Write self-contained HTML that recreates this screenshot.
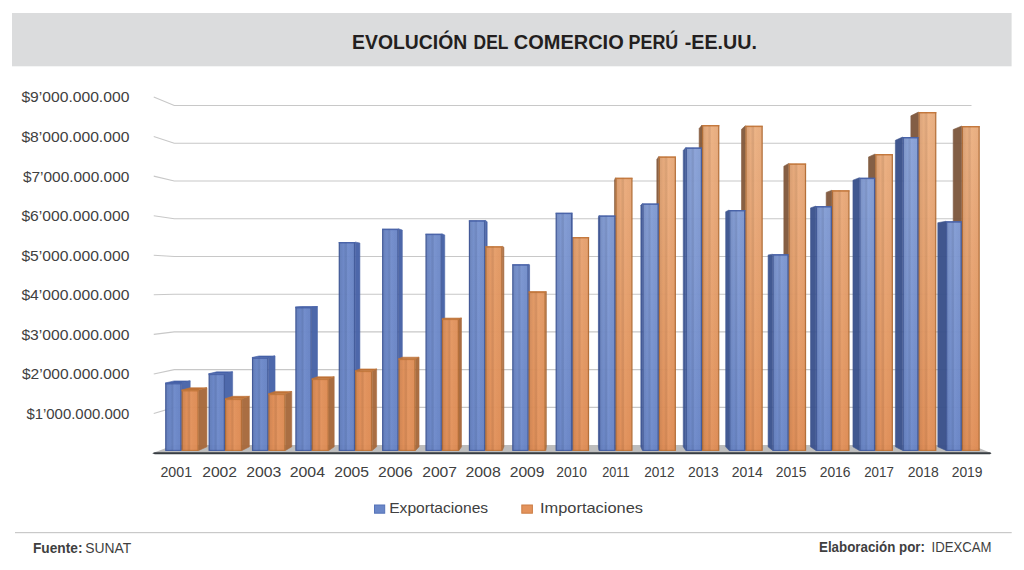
<!DOCTYPE html>
<html lang="es"><head><meta charset="utf-8"><title>Evolución del comercio Perú - EE.UU.</title>
<style>
html,body{margin:0;padding:0;background:#fff;}
body{width:1024px;height:570px;overflow:hidden;font-family:"Liberation Sans",sans-serif;}
svg{display:block}
text{font-family:"Liberation Sans",sans-serif;}
</style></head><body>
<svg width="1024" height="570" viewBox="0 0 1024 570">
<defs>
<linearGradient id="sh" x1="0" x2="1" y1="0" y2="0">
<stop offset="0" stop-color="#000" stop-opacity="0.14"/>
<stop offset="0.12" stop-color="#000" stop-opacity="0.07"/>
<stop offset="0.30" stop-color="#000" stop-opacity="0.02"/>
<stop offset="0.41" stop-color="#000" stop-opacity="0.08"/>
<stop offset="0.47" stop-color="#000" stop-opacity="0.08"/>
<stop offset="0.56" stop-color="#fff" stop-opacity="0.03"/>
<stop offset="0.88" stop-color="#000" stop-opacity="0.02"/>
<stop offset="1" stop-color="#000" stop-opacity="0.12"/>
</linearGradient>
</defs>
<rect x="0" y="0" width="1024" height="570" fill="#ffffff"/>
<rect x="12" y="13" width="999.6" height="53.3" fill="#dbdcdd"/>

<text class="tw" x="352.10" y="48.8" font-size="20.2" font-weight="bold" fill="#231f20" textLength="115.10" lengthAdjust="spacingAndGlyphs">EVOLUCIÓN</text>
<text class="tw" x="473.60" y="48.8" font-size="20.2" font-weight="bold" fill="#231f20" textLength="34.80" lengthAdjust="spacingAndGlyphs">DEL</text>
<text class="tw" x="513.80" y="48.8" font-size="20.2" font-weight="bold" fill="#231f20" textLength="109.90" lengthAdjust="spacingAndGlyphs">COMERCIO</text>
<text class="tw" x="628.50" y="48.8" font-size="20.2" font-weight="bold" fill="#231f20" textLength="49.80" lengthAdjust="spacingAndGlyphs">PERÚ</text>
<text class="tw" x="684.70" y="48.8" font-size="20.2" font-weight="bold" fill="#231f20" textLength="72.20" lengthAdjust="spacingAndGlyphs">-EE.UU.</text>
<polyline points="153.75,413.53 174.25,407.37 971.50,407.37" fill="none" stroke="#c8c8c8" stroke-width="1.1"/>
<text class="yl" x="26.40" y="418.93" font-size="15" fill="#404040" textLength="102.95" lengthAdjust="spacingAndGlyphs">$1’000.000.000</text>
<polyline points="153.75,373.96 174.25,369.64 971.50,369.64" fill="none" stroke="#c8c8c8" stroke-width="1.1"/>
<text class="yl" x="21.90" y="379.36" font-size="15" fill="#404040" textLength="107.45" lengthAdjust="spacingAndGlyphs">$2’000.000.000</text>
<polyline points="153.75,334.39 174.25,331.91 971.50,331.91" fill="none" stroke="#c8c8c8" stroke-width="1.1"/>
<text class="yl" x="21.40" y="339.79" font-size="15" fill="#404040" textLength="107.95" lengthAdjust="spacingAndGlyphs">$3’000.000.000</text>
<polyline points="153.75,294.82 174.25,294.18 971.50,294.18" fill="none" stroke="#c8c8c8" stroke-width="1.1"/>
<text class="yl" x="21.40" y="300.22" font-size="15" fill="#404040" textLength="107.95" lengthAdjust="spacingAndGlyphs">$4’000.000.000</text>
<polyline points="153.75,255.25 174.25,256.45 971.50,256.45" fill="none" stroke="#c8c8c8" stroke-width="1.1"/>
<text class="yl" x="21.40" y="260.65" font-size="15" fill="#404040" textLength="107.95" lengthAdjust="spacingAndGlyphs">$5’000.000.000</text>
<polyline points="153.75,215.68 174.25,218.72 971.50,218.72" fill="none" stroke="#c8c8c8" stroke-width="1.1"/>
<text class="yl" x="21.40" y="221.08" font-size="15" fill="#404040" textLength="107.95" lengthAdjust="spacingAndGlyphs">$6’000.000.000</text>
<polyline points="153.75,176.11 174.25,180.99 971.50,180.99" fill="none" stroke="#c8c8c8" stroke-width="1.1"/>
<text class="yl" x="22.90" y="181.51" font-size="15" fill="#404040" textLength="106.45" lengthAdjust="spacingAndGlyphs">$7’000.000.000</text>
<polyline points="153.75,136.54 174.25,143.26 971.50,143.26" fill="none" stroke="#c8c8c8" stroke-width="1.1"/>
<text class="yl" x="21.40" y="141.94" font-size="15" fill="#404040" textLength="107.95" lengthAdjust="spacingAndGlyphs">$8’000.000.000</text>
<polyline points="153.75,96.97 174.25,105.53 971.50,105.53" fill="none" stroke="#c8c8c8" stroke-width="1.1"/>
<text class="yl" x="21.40" y="102.37" font-size="15" fill="#404040" textLength="107.95" lengthAdjust="spacingAndGlyphs">$9’000.000.000</text>
<polygon points="152.75,453.00 174.25,445.10 971.50,445.10 991.00,453.00" fill="#bdbdbd"/>
<polygon points="152.25,453.20 154.75,452.20 990.00,452.20 991.50,453.20 990.00,454.30 154.75,454.30" fill="#373d42"/>
<g opacity="0.97">
<linearGradient id="g1" gradientUnits="userSpaceOnUse" x1="0" y1="450" x2="0" y2="105"><stop offset="0" stop-color="#6986c9"/><stop offset="1" stop-color="#6c88ca"/></linearGradient>
<polygon points="181.60,383.00 190.19,380.91 190.19,446.83 181.60,450.40" fill="#4965aa" stroke="#4965aa" stroke-width="0.6"/>
<polygon points="165.20,383.00 174.15,380.91 190.19,380.91 181.60,383.00" fill="#3f5ca6" stroke="#3f5ca6" stroke-width="0.6"/>
<rect x="165.80" y="383.60" width="15.20" height="66.80" fill="url(#g1)" stroke="#4560a8" stroke-width="1.2"/>
<rect x="165.20" y="383.00" width="16.40" height="67.40" fill="url(#sh)"/>
<rect x="165.20" y="383.00" width="16.40" height="1.4" fill="#4560a8" opacity="0.75"/>
<linearGradient id="g2" gradientUnits="userSpaceOnUse" x1="0" y1="450" x2="0" y2="105"><stop offset="0" stop-color="#e28e55"/><stop offset="1" stop-color="#e39159"/></linearGradient>
<polygon points="198.70,390.00 206.91,387.76 206.91,446.83 198.70,450.40" fill="#a86a3c" stroke="#a86a3c" stroke-width="0.6"/>
<polygon points="181.60,390.00 190.19,387.76 206.91,387.76 198.70,390.00" fill="#bd6e30" stroke="#bd6e30" stroke-width="0.6"/>
<rect x="182.20" y="390.60" width="15.90" height="59.80" fill="url(#g2)" stroke="#c47638" stroke-width="1.2"/>
<rect x="181.60" y="390.00" width="17.10" height="60.40" fill="url(#sh)"/>
<rect x="181.60" y="390.00" width="17.10" height="1.4" fill="#c47638" opacity="0.75"/>
</g>
<g opacity="0.97">
<linearGradient id="g37" gradientUnits="userSpaceOnUse" x1="0" y1="450" x2="0" y2="105"><stop offset="0" stop-color="#e28e55"/><stop offset="1" stop-color="#edb283"/></linearGradient>
<polygon points="961.77,126.00 953.20,129.56 953.20,446.83 961.77,450.40" fill="#7e5940" stroke="#7e5940" stroke-width="0.6"/>
<rect x="962.37" y="126.60" width="16.76" height="323.80" fill="url(#g37)" stroke="#c47638" stroke-width="1.2"/>
<rect x="961.77" y="126.00" width="17.96" height="324.40" fill="url(#sh)"/>
<rect x="961.77" y="126.00" width="17.96" height="1.4" fill="#c47638" opacity="0.75"/>
<linearGradient id="g38" gradientUnits="userSpaceOnUse" x1="0" y1="450" x2="0" y2="105"><stop offset="0" stop-color="#6986c9"/><stop offset="1" stop-color="#8ca4d9"/></linearGradient>
<polygon points="946.04,221.25 937.81,222.72 937.81,446.83 946.04,450.40" fill="#3a518b" stroke="#3a518b" stroke-width="0.6"/>
<rect x="946.64" y="221.85" width="14.53" height="228.55" fill="url(#g38)" stroke="#4560a8" stroke-width="1.2"/>
<rect x="946.04" y="221.25" width="15.73" height="229.15" fill="url(#sh)"/>
<rect x="946.04" y="221.25" width="15.73" height="1.4" fill="#4560a8" opacity="0.75"/>
</g>
<g opacity="0.97">
<linearGradient id="g3" gradientUnits="userSpaceOnUse" x1="0" y1="450" x2="0" y2="105"><stop offset="0" stop-color="#6986c9"/><stop offset="1" stop-color="#6c88ca"/></linearGradient>
<polygon points="224.98,373.75 232.61,371.86 232.61,446.83 224.98,450.40" fill="#4965a9" stroke="#4965a9" stroke-width="0.6"/>
<polygon points="208.58,373.75 216.58,371.86 232.61,371.86 224.98,373.75" fill="#3f5ca6" stroke="#3f5ca6" stroke-width="0.6"/>
<rect x="209.18" y="374.35" width="15.20" height="76.05" fill="url(#g3)" stroke="#4560a8" stroke-width="1.2"/>
<rect x="208.58" y="373.75" width="16.40" height="76.65" fill="url(#sh)"/>
<rect x="208.58" y="373.75" width="16.40" height="1.4" fill="#4560a8" opacity="0.75"/>
<linearGradient id="g4" gradientUnits="userSpaceOnUse" x1="0" y1="450" x2="0" y2="105"><stop offset="0" stop-color="#e28e55"/><stop offset="1" stop-color="#e39159"/></linearGradient>
<polygon points="242.08,398.75 249.34,396.31 249.34,446.83 242.08,450.40" fill="#a86a3c" stroke="#a86a3c" stroke-width="0.6"/>
<polygon points="224.98,398.75 232.61,396.31 249.34,396.31 242.08,398.75" fill="#bd6e30" stroke="#bd6e30" stroke-width="0.6"/>
<rect x="225.58" y="399.35" width="15.90" height="51.05" fill="url(#g4)" stroke="#c47638" stroke-width="1.2"/>
<rect x="224.98" y="398.75" width="17.10" height="51.65" fill="url(#sh)"/>
<rect x="224.98" y="398.75" width="17.10" height="1.4" fill="#c47638" opacity="0.75"/>
</g>
<g opacity="0.97">
<linearGradient id="g35" gradientUnits="userSpaceOnUse" x1="0" y1="450" x2="0" y2="105"><stop offset="0" stop-color="#e28e55"/><stop offset="1" stop-color="#edb283"/></linearGradient>
<polygon points="918.48,112.00 910.86,115.87 910.86,446.83 918.48,450.40" fill="#7f5940" stroke="#7f5940" stroke-width="0.6"/>
<rect x="919.08" y="112.60" width="16.65" height="337.80" fill="url(#g35)" stroke="#c47638" stroke-width="1.2"/>
<rect x="918.48" y="112.00" width="17.85" height="338.40" fill="url(#sh)"/>
<rect x="918.48" y="112.00" width="17.85" height="1.4" fill="#c47638" opacity="0.75"/>
<linearGradient id="g36" gradientUnits="userSpaceOnUse" x1="0" y1="450" x2="0" y2="105"><stop offset="0" stop-color="#6986c9"/><stop offset="1" stop-color="#8ca4d9"/></linearGradient>
<polygon points="902.66,137.00 895.39,140.32 895.39,446.83 902.66,450.40" fill="#3b528c" stroke="#3b528c" stroke-width="0.6"/>
<rect x="903.26" y="137.60" width="14.62" height="312.80" fill="url(#g36)" stroke="#4560a8" stroke-width="1.2"/>
<rect x="902.66" y="137.00" width="15.82" height="313.40" fill="url(#sh)"/>
<rect x="902.66" y="137.00" width="15.82" height="1.4" fill="#4560a8" opacity="0.75"/>
</g>
<g opacity="0.97">
<linearGradient id="g5" gradientUnits="userSpaceOnUse" x1="0" y1="450" x2="0" y2="105"><stop offset="0" stop-color="#6986c9"/><stop offset="1" stop-color="#6c88ca"/></linearGradient>
<polygon points="268.36,357.50 275.04,355.97 275.04,446.83 268.36,450.40" fill="#4864a9" stroke="#4864a9" stroke-width="0.6"/>
<polygon points="251.96,357.50 259.00,355.97 275.04,355.97 268.36,357.50" fill="#3f5ca6" stroke="#3f5ca6" stroke-width="0.6"/>
<rect x="252.56" y="358.10" width="15.20" height="92.30" fill="url(#g5)" stroke="#4560a8" stroke-width="1.2"/>
<rect x="251.96" y="357.50" width="16.40" height="92.90" fill="url(#sh)"/>
<rect x="251.96" y="357.50" width="16.40" height="1.4" fill="#4560a8" opacity="0.75"/>
<linearGradient id="g6" gradientUnits="userSpaceOnUse" x1="0" y1="450" x2="0" y2="105"><stop offset="0" stop-color="#e28e55"/><stop offset="1" stop-color="#e39159"/></linearGradient>
<polygon points="285.46,393.75 291.76,391.42 291.76,446.83 285.46,450.40" fill="#a86a3c" stroke="#a86a3c" stroke-width="0.6"/>
<polygon points="268.36,393.75 275.04,391.42 291.76,391.42 285.46,393.75" fill="#bd6e30" stroke="#bd6e30" stroke-width="0.6"/>
<rect x="268.96" y="394.35" width="15.90" height="56.05" fill="url(#g6)" stroke="#c47638" stroke-width="1.2"/>
<rect x="268.36" y="393.75" width="17.10" height="56.65" fill="url(#sh)"/>
<rect x="268.36" y="393.75" width="17.10" height="1.4" fill="#c47638" opacity="0.75"/>
</g>
<g opacity="0.97">
<linearGradient id="g33" gradientUnits="userSpaceOnUse" x1="0" y1="450" x2="0" y2="105"><stop offset="0" stop-color="#e28e55"/><stop offset="1" stop-color="#edb283"/></linearGradient>
<polygon points="875.19,154.00 868.52,156.95 868.52,446.83 875.19,450.40" fill="#815a3f" stroke="#815a3f" stroke-width="0.6"/>
<rect x="875.79" y="154.60" width="16.54" height="295.80" fill="url(#g33)" stroke="#c47638" stroke-width="1.2"/>
<rect x="875.19" y="154.00" width="17.74" height="296.40" fill="url(#sh)"/>
<rect x="875.19" y="154.00" width="17.74" height="1.4" fill="#c47638" opacity="0.75"/>
<linearGradient id="g34" gradientUnits="userSpaceOnUse" x1="0" y1="450" x2="0" y2="105"><stop offset="0" stop-color="#6986c9"/><stop offset="1" stop-color="#8ca4d9"/></linearGradient>
<polygon points="859.28,177.75 852.96,180.18 852.96,446.83 859.28,450.40" fill="#3b538d" stroke="#3b538d" stroke-width="0.6"/>
<rect x="859.88" y="178.35" width="14.71" height="272.05" fill="url(#g34)" stroke="#4560a8" stroke-width="1.2"/>
<rect x="859.28" y="177.75" width="15.91" height="272.65" fill="url(#sh)"/>
<rect x="859.28" y="177.75" width="15.91" height="1.4" fill="#4560a8" opacity="0.75"/>
</g>
<g opacity="0.97">
<linearGradient id="g7" gradientUnits="userSpaceOnUse" x1="0" y1="450" x2="0" y2="105"><stop offset="0" stop-color="#6986c9"/><stop offset="1" stop-color="#6c88ca"/></linearGradient>
<polygon points="311.74,307.00 317.47,306.58 317.47,446.83 311.74,450.40" fill="#4864a8" stroke="#4864a8" stroke-width="0.6"/>
<polygon points="295.34,307.00 301.43,306.58 317.47,306.58 311.74,307.00" fill="#3f5ca6" stroke="#3f5ca6" stroke-width="0.6"/>
<rect x="295.94" y="307.60" width="15.20" height="142.80" fill="url(#g7)" stroke="#4560a8" stroke-width="1.2"/>
<rect x="295.34" y="307.00" width="16.40" height="143.40" fill="url(#sh)"/>
<rect x="295.34" y="307.00" width="16.40" height="1.4" fill="#4560a8" opacity="0.75"/>
<linearGradient id="g8" gradientUnits="userSpaceOnUse" x1="0" y1="450" x2="0" y2="105"><stop offset="0" stop-color="#e28e55"/><stop offset="1" stop-color="#e39159"/></linearGradient>
<polygon points="328.84,378.75 334.19,376.75 334.19,446.83 328.84,450.40" fill="#a86a3c" stroke="#a86a3c" stroke-width="0.6"/>
<polygon points="311.74,378.75 317.47,376.75 334.19,376.75 328.84,378.75" fill="#bd6e30" stroke="#bd6e30" stroke-width="0.6"/>
<rect x="312.34" y="379.35" width="15.90" height="71.05" fill="url(#g8)" stroke="#c47638" stroke-width="1.2"/>
<rect x="311.74" y="378.75" width="17.10" height="71.65" fill="url(#sh)"/>
<rect x="311.74" y="378.75" width="17.10" height="1.4" fill="#c47638" opacity="0.75"/>
</g>
<g opacity="0.97">
<linearGradient id="g31" gradientUnits="userSpaceOnUse" x1="0" y1="450" x2="0" y2="105"><stop offset="0" stop-color="#e28e55"/><stop offset="1" stop-color="#edb283"/></linearGradient>
<polygon points="831.90,190.25 826.18,192.40 826.18,446.83 831.90,450.40" fill="#825a3f" stroke="#825a3f" stroke-width="0.6"/>
<rect x="832.50" y="190.85" width="16.43" height="259.55" fill="url(#g31)" stroke="#c47638" stroke-width="1.2"/>
<rect x="831.90" y="190.25" width="17.63" height="260.15" fill="url(#sh)"/>
<rect x="831.90" y="190.25" width="17.63" height="1.4" fill="#c47638" opacity="0.75"/>
<linearGradient id="g32" gradientUnits="userSpaceOnUse" x1="0" y1="450" x2="0" y2="105"><stop offset="0" stop-color="#6986c9"/><stop offset="1" stop-color="#8ca4d9"/></linearGradient>
<polygon points="815.90,206.10 810.53,207.90 810.53,446.83 815.90,450.40" fill="#3c538e" stroke="#3c538e" stroke-width="0.6"/>
<rect x="816.50" y="206.70" width="14.80" height="243.70" fill="url(#g32)" stroke="#4560a8" stroke-width="1.2"/>
<rect x="815.90" y="206.10" width="16.00" height="244.30" fill="url(#sh)"/>
<rect x="815.90" y="206.10" width="16.00" height="1.4" fill="#4560a8" opacity="0.75"/>
</g>
<g opacity="0.97">
<linearGradient id="g9" gradientUnits="userSpaceOnUse" x1="0" y1="450" x2="0" y2="105"><stop offset="0" stop-color="#6986c9"/><stop offset="1" stop-color="#6e8acb"/></linearGradient>
<polygon points="355.12,242.00 359.89,243.01 359.89,446.83 355.12,450.40" fill="#4863a8" stroke="#4863a8" stroke-width="0.6"/>
<rect x="339.32" y="242.60" width="15.20" height="207.80" fill="url(#g9)" stroke="#4560a8" stroke-width="1.2"/>
<rect x="338.72" y="242.00" width="16.40" height="208.40" fill="url(#sh)"/>
<rect x="338.72" y="242.00" width="16.40" height="1.4" fill="#4560a8" opacity="0.75"/>
<linearGradient id="g10" gradientUnits="userSpaceOnUse" x1="0" y1="450" x2="0" y2="105"><stop offset="0" stop-color="#e28e55"/><stop offset="1" stop-color="#e4945d"/></linearGradient>
<polygon points="372.22,370.75 376.62,368.93 376.62,446.83 372.22,450.40" fill="#a86a3c" stroke="#a86a3c" stroke-width="0.6"/>
<polygon points="355.12,370.75 359.89,368.93 376.62,368.93 372.22,370.75" fill="#bd6e30" stroke="#bd6e30" stroke-width="0.6"/>
<rect x="355.72" y="371.35" width="15.90" height="79.05" fill="url(#g10)" stroke="#c47638" stroke-width="1.2"/>
<rect x="355.12" y="370.75" width="17.10" height="79.65" fill="url(#sh)"/>
<rect x="355.12" y="370.75" width="17.10" height="1.4" fill="#c47638" opacity="0.75"/>
</g>
<g opacity="0.97">
<linearGradient id="g29" gradientUnits="userSpaceOnUse" x1="0" y1="450" x2="0" y2="105"><stop offset="0" stop-color="#e28e55"/><stop offset="1" stop-color="#edb283"/></linearGradient>
<polygon points="788.61,163.50 783.84,166.24 783.84,446.83 788.61,450.40" fill="#835a3e" stroke="#835a3e" stroke-width="0.6"/>
<rect x="789.21" y="164.10" width="16.31" height="286.30" fill="url(#g29)" stroke="#c47638" stroke-width="1.2"/>
<rect x="788.61" y="163.50" width="17.51" height="286.90" fill="url(#sh)"/>
<rect x="788.61" y="163.50" width="17.51" height="1.4" fill="#c47638" opacity="0.75"/>
<linearGradient id="g30" gradientUnits="userSpaceOnUse" x1="0" y1="450" x2="0" y2="105"><stop offset="0" stop-color="#6986c9"/><stop offset="1" stop-color="#8ca4d9"/></linearGradient>
<polygon points="772.52,254.20 768.11,254.94 768.11,446.83 772.52,450.40" fill="#3c548f" stroke="#3c548f" stroke-width="0.6"/>
<rect x="773.12" y="254.80" width="14.89" height="195.60" fill="url(#g30)" stroke="#4560a8" stroke-width="1.2"/>
<rect x="772.52" y="254.20" width="16.09" height="196.20" fill="url(#sh)"/>
<rect x="772.52" y="254.20" width="16.09" height="1.4" fill="#4560a8" opacity="0.75"/>
</g>
<g opacity="0.97">
<linearGradient id="g11" gradientUnits="userSpaceOnUse" x1="0" y1="450" x2="0" y2="105"><stop offset="0" stop-color="#6986c9"/><stop offset="1" stop-color="#728dcd"/></linearGradient>
<polygon points="398.50,228.75 402.32,230.05 402.32,446.83 398.50,450.40" fill="#4863a7" stroke="#4863a7" stroke-width="0.6"/>
<rect x="382.70" y="229.35" width="15.20" height="221.05" fill="url(#g11)" stroke="#4560a8" stroke-width="1.2"/>
<rect x="382.10" y="228.75" width="16.40" height="221.65" fill="url(#sh)"/>
<rect x="382.10" y="228.75" width="16.40" height="1.4" fill="#4560a8" opacity="0.75"/>
<linearGradient id="g12" gradientUnits="userSpaceOnUse" x1="0" y1="450" x2="0" y2="105"><stop offset="0" stop-color="#e28e55"/><stop offset="1" stop-color="#e59963"/></linearGradient>
<polygon points="415.60,358.75 419.04,357.19 419.04,446.83 415.60,450.40" fill="#a86a3c" stroke="#a86a3c" stroke-width="0.6"/>
<polygon points="398.50,358.75 402.32,357.19 419.04,357.19 415.60,358.75" fill="#bd6e30" stroke="#bd6e30" stroke-width="0.6"/>
<rect x="399.10" y="359.35" width="15.90" height="91.05" fill="url(#g12)" stroke="#c47638" stroke-width="1.2"/>
<rect x="398.50" y="358.75" width="17.10" height="91.65" fill="url(#sh)"/>
<rect x="398.50" y="358.75" width="17.10" height="1.4" fill="#c47638" opacity="0.75"/>
</g>
<g opacity="0.97">
<linearGradient id="g27" gradientUnits="userSpaceOnUse" x1="0" y1="450" x2="0" y2="105"><stop offset="0" stop-color="#e28e55"/><stop offset="1" stop-color="#edb283"/></linearGradient>
<polygon points="745.32,125.75 741.50,129.32 741.50,446.83 745.32,450.40" fill="#855b3e" stroke="#855b3e" stroke-width="0.6"/>
<rect x="745.92" y="126.35" width="16.20" height="324.05" fill="url(#g27)" stroke="#c47638" stroke-width="1.2"/>
<rect x="745.32" y="125.75" width="17.40" height="324.65" fill="url(#sh)"/>
<rect x="745.32" y="125.75" width="17.40" height="1.4" fill="#c47638" opacity="0.75"/>
<linearGradient id="g28" gradientUnits="userSpaceOnUse" x1="0" y1="450" x2="0" y2="105"><stop offset="0" stop-color="#6986c9"/><stop offset="1" stop-color="#8ca4d9"/></linearGradient>
<polygon points="729.14,210.00 725.68,211.72 725.68,446.83 729.14,450.40" fill="#3d5590" stroke="#3d5590" stroke-width="0.6"/>
<rect x="729.74" y="210.60" width="14.98" height="239.80" fill="url(#g28)" stroke="#4560a8" stroke-width="1.2"/>
<rect x="729.14" y="210.00" width="16.18" height="240.40" fill="url(#sh)"/>
<rect x="729.14" y="210.00" width="16.18" height="1.4" fill="#4560a8" opacity="0.75"/>
</g>
<g opacity="0.97">
<linearGradient id="g13" gradientUnits="userSpaceOnUse" x1="0" y1="450" x2="0" y2="105"><stop offset="0" stop-color="#6986c9"/><stop offset="1" stop-color="#7792cf"/></linearGradient>
<polygon points="441.88,233.75 444.74,234.94 444.74,446.83 441.88,450.40" fill="#4763a7" stroke="#4763a7" stroke-width="0.6"/>
<rect x="426.08" y="234.35" width="15.20" height="216.05" fill="url(#g13)" stroke="#4560a8" stroke-width="1.2"/>
<rect x="425.48" y="233.75" width="16.40" height="216.65" fill="url(#sh)"/>
<rect x="425.48" y="233.75" width="16.40" height="1.4" fill="#4560a8" opacity="0.75"/>
<linearGradient id="g14" gradientUnits="userSpaceOnUse" x1="0" y1="450" x2="0" y2="105"><stop offset="0" stop-color="#e28e55"/><stop offset="1" stop-color="#e79e6a"/></linearGradient>
<polygon points="458.98,318.75 461.47,318.07 461.47,446.83 458.98,450.40" fill="#a86a3c" stroke="#a86a3c" stroke-width="0.6"/>
<polygon points="441.88,318.75 444.74,318.07 461.47,318.07 458.98,318.75" fill="#bd6e30" stroke="#bd6e30" stroke-width="0.6"/>
<rect x="442.48" y="319.35" width="15.90" height="131.05" fill="url(#g14)" stroke="#c47638" stroke-width="1.2"/>
<rect x="441.88" y="318.75" width="17.10" height="131.65" fill="url(#sh)"/>
<rect x="441.88" y="318.75" width="17.10" height="1.4" fill="#c47638" opacity="0.75"/>
</g>
<g opacity="0.97">
<linearGradient id="g25" gradientUnits="userSpaceOnUse" x1="0" y1="450" x2="0" y2="105"><stop offset="0" stop-color="#e28e55"/><stop offset="1" stop-color="#edb283"/></linearGradient>
<polygon points="702.03,125.00 699.17,128.59 699.17,446.83 702.03,450.40" fill="#865b3d" stroke="#865b3d" stroke-width="0.6"/>
<rect x="702.63" y="125.60" width="16.09" height="324.80" fill="url(#g25)" stroke="#c47638" stroke-width="1.2"/>
<rect x="702.03" y="125.00" width="17.29" height="325.40" fill="url(#sh)"/>
<rect x="702.03" y="125.00" width="17.29" height="1.4" fill="#c47638" opacity="0.75"/>
<linearGradient id="g26" gradientUnits="userSpaceOnUse" x1="0" y1="450" x2="0" y2="105"><stop offset="0" stop-color="#6986c9"/><stop offset="1" stop-color="#8ca4d9"/></linearGradient>
<polygon points="685.76,147.50 683.26,150.59 683.26,446.83 685.76,450.40" fill="#3d5692" stroke="#3d5692" stroke-width="0.6"/>
<rect x="686.36" y="148.10" width="15.07" height="302.30" fill="url(#g26)" stroke="#4560a8" stroke-width="1.2"/>
<rect x="685.76" y="147.50" width="16.27" height="302.90" fill="url(#sh)"/>
<rect x="685.76" y="147.50" width="16.27" height="1.4" fill="#4560a8" opacity="0.75"/>
</g>
<g opacity="0.97">
<linearGradient id="g15" gradientUnits="userSpaceOnUse" x1="0" y1="450" x2="0" y2="105"><stop offset="0" stop-color="#6986c9"/><stop offset="1" stop-color="#7c97d2"/></linearGradient>
<polygon points="485.26,220.25 487.17,221.74 487.17,446.83 485.26,450.40" fill="#4762a6" stroke="#4762a6" stroke-width="0.6"/>
<rect x="469.46" y="220.85" width="15.20" height="229.55" fill="url(#g15)" stroke="#4560a8" stroke-width="1.2"/>
<rect x="468.86" y="220.25" width="16.40" height="230.15" fill="url(#sh)"/>
<rect x="468.86" y="220.25" width="16.40" height="1.4" fill="#4560a8" opacity="0.75"/>
<linearGradient id="g16" gradientUnits="userSpaceOnUse" x1="0" y1="450" x2="0" y2="105"><stop offset="0" stop-color="#e28e55"/><stop offset="1" stop-color="#e9a471"/></linearGradient>
<polygon points="502.36,246.25 503.89,247.17 503.89,446.83 502.36,450.40" fill="#a86a3c" stroke="#a86a3c" stroke-width="0.6"/>
<rect x="485.86" y="246.85" width="15.90" height="203.55" fill="url(#g16)" stroke="#c47638" stroke-width="1.2"/>
<rect x="485.26" y="246.25" width="17.10" height="204.15" fill="url(#sh)"/>
<rect x="485.26" y="246.25" width="17.10" height="1.4" fill="#c47638" opacity="0.75"/>
</g>
<g opacity="0.97">
<linearGradient id="g23" gradientUnits="userSpaceOnUse" x1="0" y1="450" x2="0" y2="105"><stop offset="0" stop-color="#e28e55"/><stop offset="1" stop-color="#edb283"/></linearGradient>
<polygon points="658.74,156.50 656.83,159.39 656.83,446.83 658.74,450.40" fill="#875b3d" stroke="#875b3d" stroke-width="0.6"/>
<rect x="659.34" y="157.10" width="15.98" height="293.30" fill="url(#g23)" stroke="#c47638" stroke-width="1.2"/>
<rect x="658.74" y="156.50" width="17.18" height="293.90" fill="url(#sh)"/>
<rect x="658.74" y="156.50" width="17.18" height="1.4" fill="#c47638" opacity="0.75"/>
<linearGradient id="g24" gradientUnits="userSpaceOnUse" x1="0" y1="450" x2="0" y2="105"><stop offset="0" stop-color="#6986c9"/><stop offset="1" stop-color="#8ca4d9"/></linearGradient>
<polygon points="642.38,203.50 640.83,205.36 640.83,446.83 642.38,450.40" fill="#3e5693" stroke="#3e5693" stroke-width="0.6"/>
<rect x="642.98" y="204.10" width="15.16" height="246.30" fill="url(#g24)" stroke="#4560a8" stroke-width="1.2"/>
<rect x="642.38" y="203.50" width="16.36" height="246.90" fill="url(#sh)"/>
<rect x="642.38" y="203.50" width="16.36" height="1.4" fill="#4560a8" opacity="0.75"/>
</g>
<g opacity="0.97">
<linearGradient id="g17" gradientUnits="userSpaceOnUse" x1="0" y1="450" x2="0" y2="105"><stop offset="0" stop-color="#6986c9"/><stop offset="1" stop-color="#829cd4"/></linearGradient>
<polygon points="528.64,264.25 529.59,264.77 529.59,446.83 528.64,450.40" fill="#4762a6" stroke="#4762a6" stroke-width="0.6"/>
<rect x="512.84" y="264.85" width="15.20" height="185.55" fill="url(#g17)" stroke="#4560a8" stroke-width="1.2"/>
<rect x="512.24" y="264.25" width="16.40" height="186.15" fill="url(#sh)"/>
<rect x="512.24" y="264.25" width="16.40" height="1.4" fill="#4560a8" opacity="0.75"/>
<linearGradient id="g18" gradientUnits="userSpaceOnUse" x1="0" y1="450" x2="0" y2="105"><stop offset="0" stop-color="#e28e55"/><stop offset="1" stop-color="#ebaa79"/></linearGradient>
<polygon points="545.74,291.75 546.32,291.67 546.32,446.83 545.74,450.40" fill="#a86a3c" stroke="#a86a3c" stroke-width="0.6"/>
<polygon points="528.64,291.75 529.59,291.67 546.32,291.67 545.74,291.75" fill="#bd6e30" stroke="#bd6e30" stroke-width="0.6"/>
<rect x="529.24" y="292.35" width="15.90" height="158.05" fill="url(#g18)" stroke="#c47638" stroke-width="1.2"/>
<rect x="528.64" y="291.75" width="17.10" height="158.65" fill="url(#sh)"/>
<rect x="528.64" y="291.75" width="17.10" height="1.4" fill="#c47638" opacity="0.75"/>
</g>
<g opacity="0.97">
<linearGradient id="g21" gradientUnits="userSpaceOnUse" x1="0" y1="450" x2="0" y2="105"><stop offset="0" stop-color="#e28e55"/><stop offset="1" stop-color="#edb182"/></linearGradient>
<polygon points="615.44,177.75 614.49,180.18 614.49,446.83 615.44,450.40" fill="#885c3d" stroke="#885c3d" stroke-width="0.6"/>
<rect x="616.04" y="178.35" width="15.87" height="272.05" fill="url(#g21)" stroke="#c47638" stroke-width="1.2"/>
<rect x="615.44" y="177.75" width="17.07" height="272.65" fill="url(#sh)"/>
<rect x="615.44" y="177.75" width="17.07" height="1.4" fill="#c47638" opacity="0.75"/>
<linearGradient id="g22" gradientUnits="userSpaceOnUse" x1="0" y1="450" x2="0" y2="105"><stop offset="0" stop-color="#6986c9"/><stop offset="1" stop-color="#8ba3d8"/></linearGradient>
<polygon points="599.00,215.50 598.41,217.09 598.41,446.83 599.00,450.40" fill="#3f5794" stroke="#3f5794" stroke-width="0.6"/>
<rect x="599.60" y="216.10" width="15.24" height="234.30" fill="url(#g22)" stroke="#4560a8" stroke-width="1.2"/>
<rect x="599.00" y="215.50" width="16.44" height="234.90" fill="url(#sh)"/>
<rect x="599.00" y="215.50" width="16.44" height="1.4" fill="#4560a8" opacity="0.75"/>
</g>
<g opacity="0.97">
<linearGradient id="g19" gradientUnits="userSpaceOnUse" x1="0" y1="450" x2="0" y2="105"><stop offset="0" stop-color="#e28e55"/><stop offset="1" stop-color="#ecae7f"/></linearGradient>
<polygon points="572.15,237.00 572.15,238.12 572.15,446.83 572.15,450.40" fill="#8a5c3c" stroke="#8a5c3c" stroke-width="0.6"/>
<rect x="572.75" y="237.60" width="15.76" height="212.80" fill="url(#g19)" stroke="#c47638" stroke-width="1.2"/>
<rect x="572.15" y="237.00" width="16.96" height="213.40" fill="url(#sh)"/>
<rect x="572.15" y="237.00" width="16.96" height="1.4" fill="#c47638" opacity="0.75"/>
<linearGradient id="g20" gradientUnits="userSpaceOnUse" x1="0" y1="450" x2="0" y2="105"><stop offset="0" stop-color="#6986c9"/><stop offset="1" stop-color="#87a0d7"/></linearGradient>
<polygon points="572.15,212.75 572.15,214.41 572.15,446.83 572.15,450.40" fill="#4762a5" stroke="#4762a5" stroke-width="0.6"/>
<rect x="556.22" y="213.35" width="15.33" height="237.05" fill="url(#g20)" stroke="#4560a8" stroke-width="1.2"/>
<rect x="555.62" y="212.75" width="16.53" height="237.65" fill="url(#sh)"/>
<rect x="555.62" y="212.75" width="16.53" height="1.4" fill="#4560a8" opacity="0.75"/>
</g>
<text class="yr" x="160.45" y="477.0" font-size="14.6" fill="#404040" textLength="31.60" lengthAdjust="spacingAndGlyphs">2001</text>
<text class="yr" x="202.20" y="477.0" font-size="14.6" fill="#404040" textLength="34.85" lengthAdjust="spacingAndGlyphs">2002</text>
<text class="yr" x="246.20" y="477.0" font-size="14.6" fill="#404040" textLength="35.10" lengthAdjust="spacingAndGlyphs">2003</text>
<text class="yr" x="289.70" y="477.0" font-size="14.6" fill="#404040" textLength="35.35" lengthAdjust="spacingAndGlyphs">2004</text>
<text class="yr" x="334.20" y="477.0" font-size="14.6" fill="#404040" textLength="34.85" lengthAdjust="spacingAndGlyphs">2005</text>
<text class="yr" x="377.95" y="477.0" font-size="14.6" fill="#404040" textLength="34.85" lengthAdjust="spacingAndGlyphs">2006</text>
<text class="yr" x="422.20" y="477.0" font-size="14.6" fill="#404040" textLength="34.85" lengthAdjust="spacingAndGlyphs">2007</text>
<text class="yr" x="465.45" y="477.0" font-size="14.6" fill="#404040" textLength="35.35" lengthAdjust="spacingAndGlyphs">2008</text>
<text class="yr" x="509.70" y="477.0" font-size="14.6" fill="#404040" textLength="34.85" lengthAdjust="spacingAndGlyphs">2009</text>
<text class="yr" x="556.20" y="477.0" font-size="14.6" fill="#404040" textLength="30.85" lengthAdjust="spacingAndGlyphs">2010</text>
<text class="yr" x="602.20" y="477.0" font-size="14.6" fill="#404040" textLength="27.35" lengthAdjust="spacingAndGlyphs">2011</text>
<text class="yr" x="644.20" y="477.0" font-size="14.6" fill="#404040" textLength="30.35" lengthAdjust="spacingAndGlyphs">2012</text>
<text class="yr" x="687.95" y="477.0" font-size="14.6" fill="#404040" textLength="30.85" lengthAdjust="spacingAndGlyphs">2013</text>
<text class="yr" x="731.70" y="477.0" font-size="14.6" fill="#404040" textLength="31.10" lengthAdjust="spacingAndGlyphs">2014</text>
<text class="yr" x="775.70" y="477.0" font-size="14.6" fill="#404040" textLength="30.85" lengthAdjust="spacingAndGlyphs">2015</text>
<text class="yr" x="819.70" y="477.0" font-size="14.6" fill="#404040" textLength="30.85" lengthAdjust="spacingAndGlyphs">2016</text>
<text class="yr" x="864.20" y="477.0" font-size="14.6" fill="#404040" textLength="29.60" lengthAdjust="spacingAndGlyphs">2017</text>
<text class="yr" x="907.70" y="477.0" font-size="14.6" fill="#404040" textLength="31.10" lengthAdjust="spacingAndGlyphs">2018</text>
<text class="yr" x="951.70" y="477.0" font-size="14.6" fill="#404040" textLength="30.85" lengthAdjust="spacingAndGlyphs">2019</text>
<rect x="374.5" y="505" width="10.2" height="8.2" fill="#6a87c8" stroke="#5573b8" stroke-width="1"/>
<text x="389.2" y="512.6" font-size="14.6" fill="#404040" textLength="99" lengthAdjust="spacingAndGlyphs">Exportaciones</text>
<rect x="521.8" y="505" width="10.6" height="8.2" fill="#e3935c" stroke="#cc7d44" stroke-width="1"/>
<text x="540" y="512.6" font-size="14.6" fill="#404040" textLength="103" lengthAdjust="spacingAndGlyphs">Importaciones</text>
<rect x="15" y="532" width="996.7" height="1.2" fill="#c9c9c9"/>
<text x="33" y="553" font-size="13.8" font-weight="bold" fill="#3f3f3f" textLength="49.5" lengthAdjust="spacingAndGlyphs">Fuente:</text>
<text x="85.3" y="553" font-size="14" fill="#3f3f3f" textLength="46" lengthAdjust="spacingAndGlyphs">SUNAT</text>
<text x="819" y="552.2" font-size="13.8" font-weight="bold" fill="#3f3f3f" textLength="106" lengthAdjust="spacingAndGlyphs">Elaboración por:</text>
<text x="931.6" y="552.2" font-size="14" fill="#3f3f3f" textLength="60" lengthAdjust="spacingAndGlyphs">IDEXCAM</text>
</svg>
</body></html>
